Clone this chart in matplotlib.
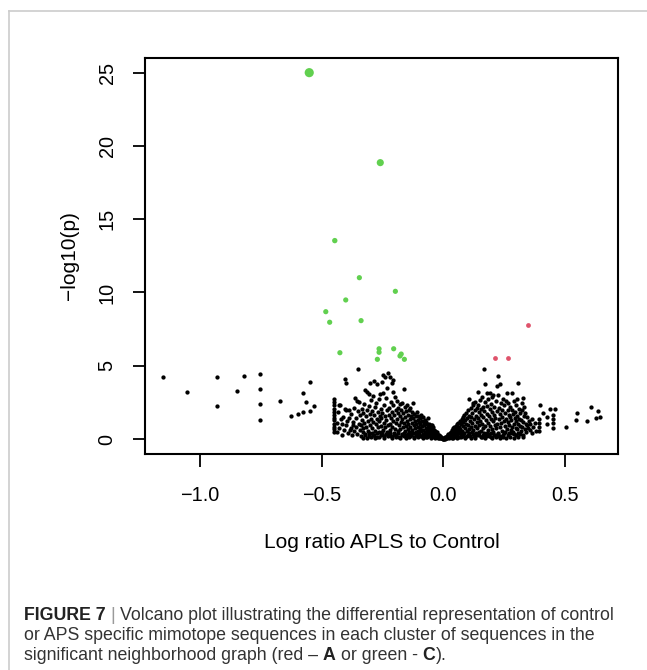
import numpy as np
import matplotlib
matplotlib.use("Agg")
import matplotlib.pyplot as plt
from matplotlib import font_manager
from matplotlib.lines import Line2D

# ---------------------------------------------------------------- data
# clusters significant for control (green) and APLS (red)
green_x = [-0.551, -0.259, -0.446, -0.345, -0.197, -0.401, -0.483, -0.467, -0.338,
           -0.425, -0.264, -0.264, -0.204, -0.271, -0.173, -0.178, -0.160]
green_y = [25.0, 18.86, 13.54, 11.01, 10.08, 9.49, 8.69, 7.97, 8.08,
           5.89, 6.16, 5.92, 6.16, 5.44, 5.80, 5.67, 5.44]
red_x = [0.347, 0.212, 0.266]
red_y = [7.76, 5.55, 5.53]

# non-significant clusters, far left
left_tail = [(-1.151, 4.23), (-1.052, 3.23), (-0.929, 4.21), (-0.929, 2.25), (-0.849, 3.28),
             (-0.819, 4.30), (-0.753, 4.44), (-0.753, 3.41), (-0.753, 2.39), (-0.753, 1.32),
             (-0.672, 2.61), (-0.627, 1.57), (-0.597, 1.71), (-0.578, 1.84), (-0.577, 3.12),
             (-0.564, 2.53), (-0.548, 3.91), (-0.548, 1.91), (-0.531, 2.23),
             (-0.451, 2.71), (-0.451, 2.53), (-0.451, 2.30), (-0.451, 2.05), (-0.451, 1.84),
             (-0.451, 1.64), (-0.451, 1.46), (-0.451, 1.30), (-0.451, 1.02), (-0.451, 0.84),
             (-0.451, 0.66), (-0.451, 0.50), (-0.429, 2.30)]

# left arm of the volcano
left_arm = [(-0.438, 1.12), (-0.435, 0.45), (-0.432, 1.85), (-0.428, 0.78), (-0.425, 2.30),
            (-0.422, 1.40), (-0.418, 0.30), (-0.415, 1.02), (-0.414, 1.52), (-0.410, 0.62),
            (-0.406, 2.05), (-0.404, 4.07), (-0.401, 1.98), (-0.400, 3.84), (-0.398, 0.95),
            (-0.395, 1.25), (-0.392, 0.40),
            (-0.388, 1.98), (-0.386, 1.41), (-0.384, 0.62), (-0.381, 0.77), (-0.378, 1.70),
            (-0.375, 0.25), (-0.372, 1.15), (-0.370, 0.96), (-0.368, 2.10), (-0.365, 0.55),
            (-0.363, 2.78), (-0.360, 1.45), (-0.358, 0.85), (-0.356, 2.59), (-0.354, 0.35),
            (-0.351, 4.76), (-0.350, 1.90), (-0.348, 2.53), (-0.346, 1.05), (-0.344, 0.60),
            (-0.342, 1.62), (-0.340, 0.20),
            (-0.338, 0.95), (-0.336, 1.32), (-0.334, 2.05), (-0.332, 0.48), (-0.330, 1.78),
            (-0.328, 0.72), (-0.326, 2.40), (-0.324, 1.10), (-0.322, 3.34), (-0.320, 0.30),
            (-0.318, 1.55), (-0.316, 0.85), (-0.315, 3.21), (-0.313, 1.95), (-0.311, 0.55),
            (-0.309, 1.25), (-0.307, 2.25), (-0.305, 0.18), (-0.304, 3.07), (-0.303, 1.68),
            (-0.301, 3.80), (-0.300, 0.95),
            (-0.298, 1.40), (-0.296, 2.65), (-0.295, 0.42), (-0.293, 1.88), (-0.291, 0.75),
            (-0.290, 2.95), (-0.288, 1.15), (-0.286, 0.28), (-0.284, 3.98), (-0.283, 1.62),
            (-0.281, 2.20), (-0.279, 0.58), (-0.278, 1.02), (-0.276, 2.48), (-0.274, 3.73),
            (-0.273, 1.35), (-0.271, 0.15), (-0.270, 1.85), (-0.268, 0.82), (-0.266, 2.72),
            (-0.265, 1.20), (-0.263, 0.45), (-0.262, 1.55), (-0.260, 3.10),
            (-0.258, 0.92), (-0.257, 2.05), (-0.255, 1.45), (-0.253, 0.35), (-0.251, 3.91),
            (-0.250, 1.75), (-0.248, 0.65), (-0.247, 4.37), (-0.247, 3.12), (-0.245, 1.10),
            (-0.244, 2.35), (-0.242, 0.22), (-0.240, 4.25), (-0.239, 1.55), (-0.238, 0.80),
            (-0.236, 2.80), (-0.235, 1.28), (-0.233, 0.48), (-0.232, 1.95), (-0.230, 3.45),
            (-0.228, 0.95), (-0.226, 4.48), (-0.225, 1.62), (-0.224, 0.30), (-0.222, 2.15),
            (-0.220, 1.05), (-0.219, 4.25), (-0.218, 0.60), (-0.216, 1.42), (-0.215, 2.55),
            (-0.214, 0.18), (-0.212, 3.80), (-0.211, 1.85), (-0.210, 0.85), (-0.208, 4.03),
            (-0.208, 3.23), (-0.206, 1.22), (-0.205, 2.30), (-0.203, 0.40), (-0.201, 1.65),
            (-0.199, 2.89), (-0.198, 0.70), (-0.196, 1.95), (-0.195, 1.08), (-0.193, 0.25),
            (-0.192, 2.60), (-0.190, 1.40), (-0.188, 0.55), (-0.187, 1.80), (-0.185, 2.15),
            (-0.183, 0.95), (-0.182, 0.12),
            (-0.180, 1.55), (-0.178, 2.40), (-0.177, 0.68), (-0.175, 1.15), (-0.173, 2.00),
            (-0.171, 2.44), (-0.170, 0.35), (-0.168, 1.38), (-0.166, 0.85), (-0.165, 1.78),
            (-0.163, 0.20), (-0.162, 3.39), (-0.161, 1.10), (-0.159, 2.18), (-0.158, 0.55),
            (-0.156, 1.50), (-0.155, 0.92), (-0.153, 1.88), (-0.152, 0.30), (-0.150, 1.25),
            (-0.148, 2.35), (-0.147, 0.70), (-0.145, 1.62), (-0.144, 1.02), (-0.142, 0.15),
            (-0.141, 1.95),
            (-0.139, 0.48), (-0.138, 1.35), (-0.136, 2.10), (-0.135, 0.85), (-0.133, 1.60),
            (-0.132, 0.25), (-0.130, 1.12), (-0.129, 1.85), (-0.127, 0.62), (-0.126, 1.42),
            (-0.124, 0.38), (-0.123, 2.48), (-0.122, 0.98), (-0.120, 1.70), (-0.119, 0.15),
            (-0.117, 1.25), (-0.116, 0.72), (-0.114, 1.55), (-0.113, 0.45), (-0.111, 1.05),
            (-0.109, 1.87), (-0.108, 0.28), (-0.106, 1.32), (-0.105, 0.82), (-0.103, 1.60),
            (-0.102, 0.55), (-0.100, 1.15),
            (-0.099, 0.30), (-0.097, 1.42), (-0.096, 0.75), (-0.094, 1.05), (-0.093, 0.18),
            (-0.091, 1.62), (-0.090, 0.52), (-0.088, 1.25), (-0.087, 0.88), (-0.085, 0.35),
            (-0.084, 1.48), (-0.082, 0.65), (-0.081, 1.10), (-0.079, 0.22), (-0.078, 0.95),
            (-0.076, 1.32), (-0.075, 0.48), (-0.073, 0.78), (-0.072, 1.15), (-0.070, 0.12),
            (-0.069, 0.62), (-0.067, 1.02), (-0.066, 0.38), (-0.064, 0.85), (-0.062, 1.41),
            (-0.061, 0.25),
            (-0.059, 0.70), (-0.058, 1.05), (-0.056, 0.45), (-0.055, 0.88), (-0.053, 0.18),
            (-0.052, 0.62), (-0.050, 0.95), (-0.048, 0.35), (-0.048, 0.96), (-0.046, 0.72),
            (-0.045, 0.12), (-0.043, 0.55), (-0.042, 0.82), (-0.040, 0.28), (-0.039, 0.65),
            (-0.037, 0.42), (-0.036, 0.10), (-0.034, 0.58), (-0.033, 0.30), (-0.031, 0.48),
            (-0.030, 0.15), (-0.029, 0.38), (-0.027, 0.50), (-0.026, 0.22), (-0.024, 0.35),
            (-0.023, 0.08), (-0.021, 0.28), (-0.020, 0.15), (-0.018, 0.25), (-0.016, 0.10),
            (-0.015, 0.20), (-0.013, 0.05), (-0.012, 0.15), (-0.010, 0.08), (-0.008, 0.12),
            (-0.007, 0.04), (-0.005, 0.06), (-0.003, 0.03), (-0.001, 0.01)]

left_base = [(-0.330, 0.10), (-0.322, 0.35), (-0.314, 0.08), (-0.306, 0.42), (-0.298, 0.15),
             (-0.290, 0.30), (-0.282, 0.05), (-0.274, 0.38), (-0.266, 0.12), (-0.258, 0.25),
             (-0.250, 0.45), (-0.242, 0.08), (-0.234, 0.32), (-0.226, 0.18), (-0.218, 0.40),
             (-0.210, 0.06), (-0.202, 0.28), (-0.194, 0.15), (-0.186, 0.38), (-0.178, 0.10),
             (-0.170, 0.25), (-0.162, 0.42), (-0.154, 0.05), (-0.146, 0.32), (-0.138, 0.18),
             (-0.130, 0.40), (-0.122, 0.08), (-0.114, 0.28), (-0.106, 0.12), (-0.098, 0.45),
             (-0.090, 0.22), (-0.082, 0.05), (-0.074, 0.32), (-0.066, 0.15), (-0.058, 0.28),
             (-0.050, 0.08), (-0.042, 0.20), (-0.034, 0.12)]

# right arm of the volcano
right_arm = [(0.001, 0.01), (0.003, 0.04), (0.005, 0.07), (0.006, 0.02), (0.008, 0.12),
             (0.010, 0.06), (0.011, 0.16), (0.013, 0.10), (0.015, 0.22), (0.016, 0.05),
             (0.018, 0.28), (0.020, 0.14), (0.021, 0.35), (0.023, 0.20), (0.025, 0.08),
             (0.026, 0.42), (0.028, 0.25), (0.030, 0.50), (0.031, 0.15), (0.033, 0.38),
             (0.035, 0.34), (0.036, 0.60), (0.038, 0.10), (0.040, 0.45), (0.041, 0.72),
             (0.043, 0.25), (0.045, 0.58), (0.046, 0.85), (0.048, 0.61), (0.050, 0.18),
             (0.051, 0.92), (0.053, 0.40), (0.055, 0.75), (0.056, 1.02), (0.058, 0.30),
             (0.060, 0.62),
             (0.062, 1.07), (0.063, 0.48), (0.065, 0.85), (0.066, 0.15), (0.068, 1.20),
             (0.070, 0.70), (0.071, 0.35), (0.073, 1.00), (0.075, 1.35), (0.076, 0.55),
             (0.078, 0.22), (0.080, 0.88), (0.082, 1.52), (0.083, 1.15), (0.085, 0.42),
             (0.086, 1.62), (0.088, 0.75), (0.090, 1.30), (0.091, 0.12), (0.093, 1.05),
             (0.095, 1.75), (0.096, 0.58), (0.098, 1.42), (0.100, 0.30),
             (0.101, 0.95), (0.103, 1.98), (0.104, 1.60), (0.106, 0.68), (0.107, 2.71),
             (0.108, 1.25), (0.110, 0.20), (0.112, 2.15), (0.113, 0.85), (0.115, 1.48),
             (0.116, 0.45), (0.118, 1.80), (0.120, 1.10), (0.121, 2.30), (0.123, 2.44),
             (0.124, 0.62), (0.126, 1.35), (0.127, 0.18), (0.129, 1.95), (0.131, 0.92),
             (0.132, 2.55), (0.134, 1.58), (0.135, 0.38), (0.137, 1.18), (0.138, 2.10),
             (0.140, 0.75),
             (0.141, 3.23), (0.142, 1.42), (0.144, 2.35), (0.145, 0.25), (0.147, 1.85),
             (0.148, 0.95), (0.150, 2.68), (0.151, 1.22), (0.153, 0.55), (0.155, 2.05),
             (0.156, 1.62), (0.158, 0.15), (0.159, 2.90), (0.161, 1.05), (0.162, 0.72),
             (0.164, 2.20), (0.165, 1.48), (0.167, 0.40), (0.169, 4.76), (0.169, 1.90),
             (0.171, 2.50), (0.172, 0.88), (0.173, 3.75), (0.175, 1.28), (0.176, 0.22),
             (0.178, 3.12), (0.179, 1.70), (0.180, 2.25),
             (0.182, 0.62), (0.183, 1.10), (0.185, 2.72), (0.186, 1.55), (0.188, 0.35),
             (0.190, 2.05), (0.192, 3.12), (0.193, 0.90), (0.194, 1.38), (0.196, 2.40),
             (0.197, 0.12), (0.199, 1.82), (0.200, 0.68), (0.202, 2.85), (0.203, 1.20),
             (0.205, 0.45), (0.206, 3.00), (0.208, 1.65), (0.209, 2.22), (0.211, 0.95),
             (0.212, 0.25), (0.214, 1.45), (0.215, 2.60), (0.217, 0.75), (0.219, 3.62),
             (0.220, 1.88),
             (0.222, 1.05), (0.223, 0.40), (0.225, 4.32), (0.226, 3.00), (0.227, 2.15),
             (0.229, 1.35), (0.230, 0.18), (0.232, 3.73), (0.233, 1.72), (0.235, 0.82),
             (0.236, 2.48), (0.238, 1.10), (0.240, 0.55), (0.241, 2.00), (0.243, 1.52),
             (0.244, 0.30), (0.246, 2.75), (0.247, 0.16), (0.249, 1.25), (0.250, 2.35),
             (0.252, 0.92), (0.254, 1.80), (0.255, 0.48), (0.257, 2.62), (0.258, 1.40),
             (0.261, 3.16), (0.262, 0.70), (0.264, 1.95), (0.265, 1.15), (0.267, 2.45),
             (0.268, 0.38), (0.270, 1.62), (0.272, 0.95), (0.274, 1.48), (0.275, 2.18),
             (0.277, 0.60), (0.279, 1.30), (0.281, 3.12), (0.282, 2.00), (0.284, 0.85),
             (0.285, 0.50), (0.287, 1.72), (0.289, 2.60), (0.290, 1.05), (0.292, 0.32),
             (0.294, 1.45), (0.295, 1.86), (0.297, 0.78), (0.299, 2.30), (0.300, 1.20),
             (0.302, 2.71), (0.302, 0.66), (0.304, 1.60), (0.306, 1.00), (0.307, 3.80),
             (0.309, 0.42), (0.311, 2.05), (0.313, 1.35), (0.315, 0.90), (0.317, 1.75),
             (0.319, 1.30), (0.320, 0.55), (0.322, 1.98), (0.322, 0.84), (0.324, 2.45),
             (0.326, 0.27), (0.328, 1.15), (0.329, 2.78), (0.329, 0.16), (0.331, 1.55),
             (0.332, 2.20), (0.334, 0.70), (0.336, 1.80), (0.338, 1.05), (0.340, 0.45),
             (0.343, 1.52), (0.345, 0.95), (0.349, 0.73), (0.352, 1.25), (0.356, 1.00),
             (0.358, 0.60), (0.363, 0.39), (0.366, 1.40), (0.370, 0.85), (0.375, 1.10),
             (0.380, 0.55)]

right_base = [(0.034, 0.05), (0.042, 0.12), (0.050, 0.28), (0.058, 0.08), (0.066, 0.40),
              (0.074, 0.15), (0.082, 0.30), (0.090, 0.05), (0.098, 0.22), (0.106, 0.42),
              (0.114, 0.10), (0.122, 0.32), (0.130, 0.06), (0.138, 0.25), (0.146, 0.45),
              (0.154, 0.12), (0.162, 0.30), (0.170, 0.08), (0.178, 0.38), (0.186, 0.18),
              (0.194, 0.42), (0.202, 0.05), (0.210, 0.28), (0.218, 0.12), (0.226, 0.35),
              (0.234, 0.08), (0.242, 0.22), (0.250, 0.40), (0.258, 0.10), (0.266, 0.30),
              (0.274, 0.15), (0.282, 0.42), (0.290, 0.08), (0.298, 0.25), (0.306, 0.12),
              (0.314, 0.35)]

# non-significant clusters, far right
right_tail = [(0.395, 1.34), (0.395, 1.07), (0.395, 0.80), (0.395, 0.57), (0.397, 2.30),
              (0.410, 1.75), (0.425, 1.48), (0.425, 1.00), (0.439, 2.03), (0.450, 1.64),
              (0.450, 1.34), (0.450, 1.07), (0.450, 0.73), (0.459, 2.03), (0.504, 0.84),
              (0.545, 1.30), (0.548, 1.75), (0.589, 1.23), (0.607, 2.20), (0.628, 1.41),
              (0.637, 1.91), (0.644, 1.52)]

x_ticks = [-1.0, -0.5, 0.0, 0.5]
y_ticks = [0, 5, 10, 15, 20, 25]

caption_lines = [
    [("FIGURE 7", "bold", "#222222"), ("|", "normal", "#9a9a9a"),
     ("Volcano plot illustrating the differential representation of control", "normal", "#333333")],
    [("or APS specific mimotope sequences in each cluster of sequences in the", "normal", "#333333")],
    [("significant neighborhood graph (red \u2013", "normal", "#333333"), ("A", "bold", "#222222"),
     ("or green -", "normal", "#333333"), ("C", "bold", "#222222"), (").", "normal", "#333333", True)],
]

# ---------------------------------------------------------------- figure
W, H = 647, 670
fig = plt.figure(figsize=(W / 100, H / 100), dpi=100)
fig.patch.set_facecolor("white")

AXFONT = "Liberation Sans"

# thin grey page frame
fig.add_artist(Line2D([8.5 / W, 8.5 / W], [0, 1 - 10.5 / H], transform=fig.transFigure,
                      color="#cccccc", lw=1.2))
fig.add_artist(Line2D([8.5 / W, 1], [1 - 10.5 / H, 1 - 10.5 / H], transform=fig.transFigure,
                      color="#cccccc", lw=1.2))

ax = fig.add_axes([145 / W, 1 - 454 / H, 473 / W, 396 / H])

black = np.array(left_tail + left_arm + left_base + right_arm + right_base + right_tail)
ax.scatter(black[:, 0], black[:, 1], s=9.5, c="black", linewidths=0, zorder=2)

green_y_arr = np.array(green_y)
green_d = np.maximum(5.2, 5.2 + (green_y_arr - 13.0) * 0.33)   # marker diameter in px
ax.scatter(green_x, green_y, s=(green_d * 0.72) ** 2, c="#61D04F", linewidths=0, zorder=3)
ax.scatter(red_x, red_y, s=(4.8 * 0.72) ** 2, c="#DF536B", linewidths=0, zorder=3)

ax.set_xlim(-1.226, 0.718)
ax.set_ylim(-1.02, 26.0)
ax.set_xticks(x_ticks)
ax.set_xticklabels([f"{v:.1f}".replace("-", "\u2212") for v in x_ticks])
ax.set_yticks(y_ticks)
ax.set_yticklabels([str(v) for v in y_ticks])

for sp in ax.spines.values():
    sp.set_linewidth(1.5)
    sp.set_color("black")
ax.tick_params(axis="both", direction="out", length=9, width=1.3, colors="black",
               labelsize=14.3)
ax.tick_params(axis="x", pad=14)
ax.tick_params(axis="y", pad=11.5)
for lab in ax.get_xticklabels() + ax.get_yticklabels():
    lab.set_fontfamily(AXFONT)
for lab in ax.get_yticklabels():
    lab.set_rotation(90)
    lab.set_va("center")

fig.text(381.5 / W, 1 - 543 / H, "Log ratio APLS to Control", ha="center", va="center",
         fontsize=15, family=AXFONT, color="black")
fig.text(70 / W, 1 - 256 / H, "\u2212log10(p)", ha="center", va="center", rotation=90,
         fontsize=15, family=AXFONT, color="black")

# ---------------------------------------------------------------- caption
def pick_caption_font():
    for name in ["Liberation Sans Narrow", "Liberation Sans"]:
        try:
            font_manager.findfont(font_manager.FontProperties(family=name),
                                  fallback_to_default=False)
            return name
        except Exception:
            continue
    return "DejaVu Sans"

capfont = pick_caption_font()
renderer = fig.canvas.get_renderer()


def text_width(s, size, weight):
    t = fig.text(0, 0, s, fontsize=size, fontweight=weight, family=capfont)
    w = t.get_window_extent(renderer).width
    t.remove()
    return w

# fit the caption size to the column width
base = 12.0
w2 = text_width(caption_lines[1][0][0], base, "normal")
cap_size = base * 574.0 / w2

space_w = text_width("a a", cap_size, "normal") - text_width("aa", cap_size, "normal")
baselines = [619.5, 640.0, 659.5]
for line, yb in zip(caption_lines, baselines):
    xpx = 24.0
    for i, seg in enumerate(line):
        txt, weight, color = seg[:3]
        glued = len(seg) > 3 and seg[3]
        if i > 0 and not glued:
            xpx += space_w
        t = fig.text(xpx / W, 1 - yb / H, txt, fontsize=cap_size, fontweight=weight,
                     family=capfont, color=color, ha="left", va="baseline")
        xpx += t.get_window_extent(renderer).width

fig.savefig("out.png", dpi=100, facecolor="white")
